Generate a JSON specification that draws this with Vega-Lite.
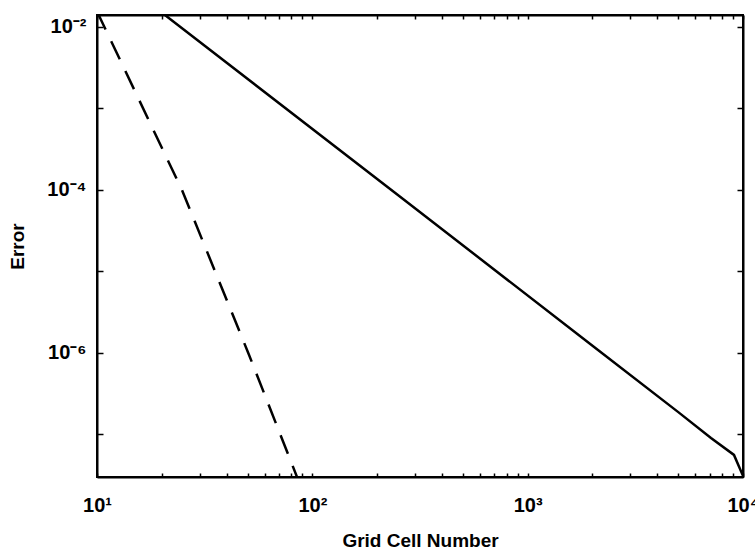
{
  "$schema": "https://vega.github.io/schema/vega-lite/v6.json",
  "width": 646,
  "height": 462,
  "autosize": "none",
  "padding": {"left": 97, "top": 15, "right": 12, "bottom": 72},
  "background": "white",
  "config": {
    "view": {"stroke": "black", "strokeWidth": 2},
    "axis": {
      "grid": false,
      "domainColor": "black",
      "domainWidth": 2,
      "tickColor": "black",
      "tickWidth": 1.5,
      "labelColor": "black",
      "titleColor": "black",
      "labelOverlap": false,
      "labelFlush": false
    }
  },
  "data": {
    "values": [
      {"n": 20, "err": 0.0150, "scheme": "solid"},
      {"n": 256.6, "err": 8.2e-5, "scheme": "solid"},
      {"n": 2028, "err": 1.19e-6, "scheme": "solid"},
      {"n": 4989, "err": 1.89e-7, "scheme": "solid"},
      {"n": 7100, "err": 9.06e-8, "scheme": "solid"},
      {"n": 9080, "err": 5.6e-8, "scheme": "solid"},
      {"n": 10000, "err": 3.1e-8, "scheme": "solid"},
      {"n": 10, "err": 0.0155, "scheme": "dashed"},
      {"n": 24.8, "err": 1.0e-4, "scheme": "dashed"},
      {"n": 50.4, "err": 1.0e-6, "scheme": "dashed"},
      {"n": 85.1, "err": 2.95e-8, "scheme": "dashed"},
      {"n": 90, "err": 1.9e-8, "scheme": "dashed"}
    ]
  },
  "resolve": {"axis": {"x": "independent", "y": "independent"}},
  "layer": [
    {
      "transform": [{"filter": "datum.scheme == 'solid'"}],
      "mark": {"type": "line", "color": "black", "strokeWidth": 2.5, "clip": true},
      "encoding": {
        "x": {
          "field": "n", "type": "quantitative",
          "scale": {"type": "log", "domain": [10, 10000], "nice": false},
          "axis": {
            "orient": "bottom",
            "zindex": 1,
            "ticks": true,
            "title": "Grid Cell Number",
            "titleFont": "Liberation Sans",
            "titleFontSize": 19,
            "titleFontWeight": "bold",
            "titleY": 63,
            "titleBaseline": "middle",
            "labelFont": "Liberation Sans",
            "labelFontSize": 20,
            "labelFontWeight": "bold",
            "labelPadding": 22,
            "values": [10,20,30,40,50,60,70,80,90,100,200,300,400,500,600,700,800,900,1000,2000,3000,4000,5000,6000,7000,8000,9000,10000],
            "tickSize": -4,
            "labelExpr": "abs(log(datum.value)/LN10 - round(log(datum.value)/LN10)) < 0.001 ? '10' + ['⁰','¹','²','³','⁴','⁵'][round(log(datum.value)/LN10)] : ''"
          }
        },
        "y": {
          "field": "err", "type": "quantitative",
          "scale": {"type": "log", "domain": [3.0e-8, 0.01403], "nice": false},
          "axis": {
            "orient": "left",
            "zindex": 1,
            "ticks": true,
            "title": "Error",
            "titleFont": "Liberation Sans",
            "titleFontSize": 19,
            "titleFontWeight": "bold",
            "titleX": -80,
            "titleY": 231,
            "titleBaseline": "middle",
            "labelFont": "Liberation Sans",
            "labelFontSize": 20,
            "labelFontWeight": "bold",
            "labelPadding": 17,
            "values": [0.01, 0.001, 0.0001, 0.00001, 0.000001, 0.0000001],
            "tickSize": -6,
            "labelExpr": "round(log(datum.value)/LN10) % 2 == 0 ? '10⁻' + ['⁰','¹','²','³','⁴','⁵','⁶','⁷','⁸','⁹'][-round(log(datum.value)/LN10)] : ''"
          }
        }
      }
    },
    {
      "transform": [{"filter": "datum.scheme == 'dashed'"}],
      "mark": {"type": "line", "color": "black", "strokeWidth": 2.5, "strokeDash": [20, 13], "clip": true},
      "encoding": {
        "x": {
          "field": "n", "type": "quantitative",
          "scale": {"type": "log", "domain": [10, 10000], "nice": false},
          "axis": {
            "orient": "top",
            "zindex": 1,
            "ticks": true,
            "title": null,
            "labels": false,
            "values": [10,20,30,40,50,60,70,80,90,100,200,300,400,500,600,700,800,900,1000,2000,3000,4000,5000,6000,7000,8000,9000,10000],
            "tickSize": -4
          }
        },
        "y": {
          "field": "err", "type": "quantitative",
          "scale": {"type": "log", "domain": [3.0e-8, 0.01403], "nice": false},
          "axis": {
            "orient": "right",
            "zindex": 1,
            "ticks": true,
            "title": null,
            "labels": false,
            "values": [0.01, 0.001, 0.0001, 0.00001, 0.000001, 0.0000001],
            "tickSize": -6
          }
        }
      }
    }
  ]
}
